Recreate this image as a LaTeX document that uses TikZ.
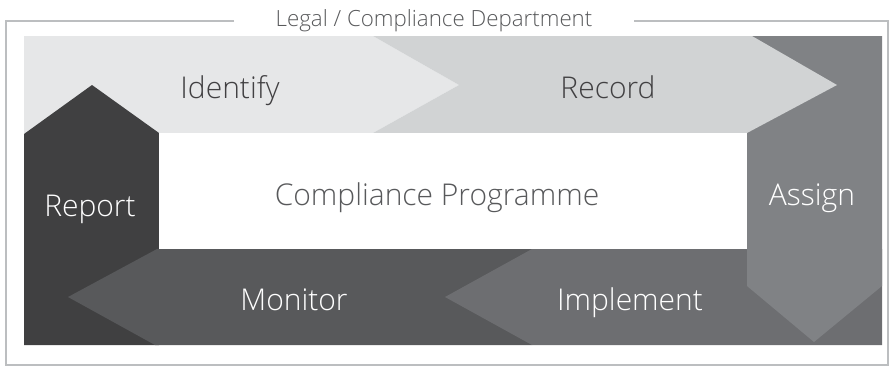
\documentclass[tikz,border=0pt]{standalone}
\usepackage{fontspec}
\setmainfont{Open Sans Light}
\definecolor{cIdent}{HTML}{E6E7E8}
\definecolor{cRecord}{HTML}{D1D3D4}
\definecolor{cAssign}{HTML}{808285}
\definecolor{cImpl}{HTML}{6D6E71}
\definecolor{cMon}{HTML}{58595B}
\definecolor{cRep}{HTML}{404041}
\definecolor{cFrame}{HTML}{BCBEC0}
\definecolor{cText}{HTML}{414042}
\begin{document}
\begin{tikzpicture}[x=1pt,y=-1pt,
  lbl/.style={font=\fontsize{30}{33}\selectfont, anchor=base, inner sep=0pt},
  darklbl/.style={lbl, text=cText},
  whitelbl/.style={lbl, text=white},
  frameline/.style={draw=cFrame, line width=1.2pt}]
\useasboundingbox (0,0) rectangle (889,367);
% frame
\node[anchor=base, inner sep=0pt, text=cMon, font=\fontsize{22.3}{25}\selectfont] (title) at (434,26) {Legal / Compliance Department};
\coordinate (fl) at (234,21);
\coordinate (fr) at (634,21);
\draw[frameline] (fl) -- (6,21) -- (6,365) -- (888,365) -- (888,21) -- (fr);
% Identify
\fill[cIdent] (24,36) -- (373,36) -- (459,85) -- (373,133) -- (24,133) -- cycle;
% Report
\fill[cRep] (24,134) -- (92,85) -- (159,133) -- (159,345) -- (24,345) -- cycle;
% Monitor
\fill[cMon] (157,249) -- (532,249) -- (532,345) -- (155,345) -- (68,297) -- cycle;
% Implement
\fill[cImpl] (532,249) -- (882,249) -- (882,345) -- (532,345) -- (445,297) -- cycle;
% Assign
\fill[cAssign] (747,36) -- (882,36) -- (882,286) -- (814,342) -- (747,286) -- cycle;
% Record (notched)
\fill[cRecord] (373,36) -- (752,36) -- (837,85) -- (747,133) -- (373,133) -- (459,85) -- cycle;
% Centre
\fill[white] (159,133) rectangle (747,249);
% labels
\node[darklbl] (identify) at (230,98) {Identify};
\node[darklbl] (record) at (608,98) {Record};
\node[whitelbl] (report) at (90,216) {Report};
\node[lbl, text=cMon] (programme) at (437,205) {Compliance Programme};
\node[whitelbl] (assign) at (812,205) {Assign};
\node[whitelbl] (monitor) at (294,310) {Monitor};
\node[whitelbl] (implement) at (630,310) {Implement};
\end{tikzpicture}
\end{document}
